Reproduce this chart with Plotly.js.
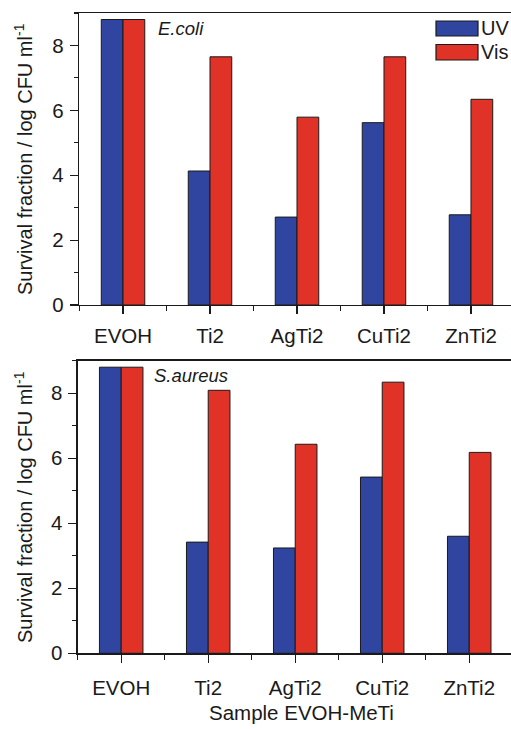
<!DOCTYPE html>
<html>
<head>
<meta charset="utf-8">
<script src="https://cdn.plot.ly/plotly-3.0.1.min.js"></script>
<style>
  html, body { margin: 0; padding: 0; background: #ffffff; }
  #chart { width: 511px; height: 729px; }
</style>
</head>
<body>
<div id="chart"></div>
<script>
// Samples (EVOH film and EVOH-MeTi composites)
const categories = ["EVOH", "Ti2", "AgTi2", "CuTi2", "ZnTi2"];

// Survival (log CFU/ml) after UV or visible-light exposure
const ecoliUV  = [8.8, 4.13, 2.71, 5.62, 2.78];
const ecoliVis = [8.8, 7.65, 5.79, 7.65, 6.34];
const saureusUV  = [8.8, 3.42, 3.24, 5.42, 3.60];
const saureusVis = [8.8, 8.09, 6.43, 8.34, 6.18];

const yTickVals = [0, 2, 4, 6, 8];

const FONT = "Liberation Sans, Arial, Helvetica, sans-serif";
const INK = "#1a1a1a";
const BLUE = "#2f45a0";
const RED = "#e03226";

const W = 511, H = 729;
const px = v => v / W;          // horizontal pixel -> paper fraction
const py = v => 1 - v / H;      // vertical pixel (from top) -> paper fraction

const idx = categories.map((c, i) => i);

function bars(y, name, color, xa, ya) {
  return {
    type: "bar", x: idx, y: y, name: name,
    xaxis: xa, yaxis: ya,
    offsetgroup: name,
    marker: { color: color, line: { color: INK, width: 1 } },
    showlegend: false,
    hoverinfo: "x+y"
  };
}

const data = [
  bars(ecoliUV, "UV", BLUE, "x", "y"),
  bars(ecoliVis, "Vis", RED, "x", "y"),
  bars(saureusUV, "UV", BLUE, "x2", "y2"),
  bars(saureusVis, "Vis", RED, "x2", "y2")
];

function xAxis(domainLeft, range, anchor, standoff) {
  return {
    domain: [px(domainLeft), 1],
    range: range,
    anchor: anchor,
    tickmode: "array",
    tickvals: idx,
    ticktext: categories,
    ticks: "outside", ticklen: 8, tickwidth: 1.2, tickcolor: INK,
    minor: { tick0: 0.5, dtick: 1, ticks: "outside", ticklen: 5, tickwidth: 1.2, tickcolor: INK, showgrid: false },
    ticklabelstandoff: standoff,
    showline: true, linecolor: INK, linewidth: 1.3, mirror: true,
    showgrid: false, zeroline: false,
    tickfont: { family: FONT, size: 20.5, color: INK },
    fixedrange: true
  };
}

function yAxis(top, bottom, anchor) {
  return {
    domain: [py(bottom), py(top)],
    range: [0, 9],
    anchor: anchor,
    tickmode: "array",
    tickvals: yTickVals,
    ticks: "outside", ticklen: 8, tickwidth: 1.2, tickcolor: INK,
    minor: { tick0: 1, dtick: 2, ticks: "outside", ticklen: 4, tickwidth: 1.2, tickcolor: INK, showgrid: false },
    ticklabelstandoff: 2,
    showline: true, linecolor: INK, linewidth: 1.3,
    showgrid: false, zeroline: false,
    tickfont: { family: FONT, size: 20.5, color: INK },
    fixedrange: true
  };
}

const yTitle = "Survival fraction / log CFU ml<sup>-1</sup>";

const layout = {
  width: W, height: H,
  margin: { l: 0, r: 0, t: 0, b: 0 },
  paper_bgcolor: "#ffffff", plot_bgcolor: "#ffffff",
  barmode: "group", bargap: 0.5, bargroupgap: 0,
  showlegend: false,
  xaxis: xAxis(79, [-0.506, 4.46], "y", 4),
  yaxis: yAxis(13, 305, "x"),
  xaxis2: xAxis(77.7, [-0.5, 4.48], "y2", 8),
  yaxis2: yAxis(360.7, 653.3, "x2"),
  font: { family: FONT, color: INK },
  shapes: [
    // legend swatches
    { type: "rect", xref: "paper", yref: "paper", x0: px(436), x1: px(478), y0: py(36), y1: py(21),
      fillcolor: BLUE, line: { color: INK, width: 1.2 } },
    { type: "rect", xref: "paper", yref: "paper", x0: px(436), x1: px(478), y0: py(60), y1: py(44.5),
      fillcolor: RED, line: { color: INK, width: 1.2 } }
  ],
  annotations: [
    { text: "UV", xref: "paper", yref: "paper", x: px(478.5), y: py(28.5), xanchor: "left", yanchor: "middle",
      showarrow: false, font: { family: FONT, size: 20, color: INK } },
    { text: "Vis", xref: "paper", yref: "paper", x: px(478.5), y: py(52), xanchor: "left", yanchor: "middle",
      showarrow: false, font: { family: FONT, size: 20, color: INK } },
    { text: "<i>E.coli</i>", xref: "paper", yref: "paper", x: px(156), y: py(29), xanchor: "left", yanchor: "middle",
      showarrow: false, font: { family: FONT, size: 18.5, color: INK } },
    { text: "<i>S.aureus</i>", xref: "paper", yref: "paper", x: px(152), y: py(375.5), xanchor: "left", yanchor: "middle",
      showarrow: false, font: { family: FONT, size: 18.5, color: INK } },
    { text: yTitle, xref: "paper", yref: "paper", x: px(23), y: py(159), textangle: -90,
      xanchor: "center", yanchor: "middle", showarrow: false, font: { family: FONT, size: 20, color: INK } },
    { text: yTitle, xref: "paper", yref: "paper", x: px(23), y: py(507), textangle: -90,
      xanchor: "center", yanchor: "middle", showarrow: false, font: { family: FONT, size: 20, color: INK } },
    { text: "Sample EVOH-MeTi", xref: "paper", yref: "paper", x: px(301), y: py(712), xanchor: "center", yanchor: "middle",
      showarrow: false, font: { family: FONT, size: 20.5, color: INK } }
  ]
};

Plotly.newPlot("chart", data, layout, { staticPlot: true, displayModeBar: false });
</script>
</body>
</html>
